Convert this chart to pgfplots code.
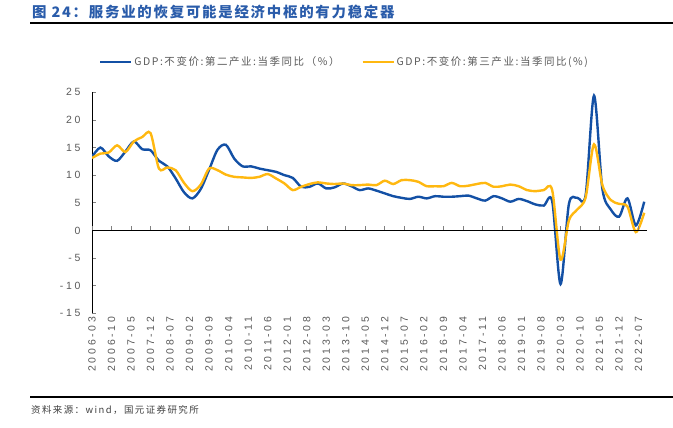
\documentclass[border=0pt]{standalone}
\usepackage{pgfplots}
\pgfplotsset{compat=1.18}
\usepackage{pgfplotstable}
\usepackage{fontspec}
\setmainfont{Liberation Sans}
\newfontfamily\cjk[LetterSpace=15]{Noto Sans CJK SC}
\newfontfamily\cjkb[LetterSpace=12]{Noto Sans CJK SC}
\newfontfamily\lab[LetterSpace=26]{Liberation Sans}

\definecolor{secblue}{HTML}{1350A5}
\definecolor{teryel}{HTML}{FFB810}
\definecolor{titleblue}{HTML}{2A5CAA}
\definecolor{labgray}{HTML}{595959}
\definecolor{srcgray}{HTML}{404040}

% m = months since 2006-03, sec = 第二产业, ter = 第三产业
\pgfplotstableread{
m sec ter
0 13.3 13.1
3 15.0 13.9
6 13.4 14.1
9 12.6 15.4
12 14.3 14.2
15 16.1 16.1
18 14.7 16.9
21 14.5 17.6
24 12.6 11.2
27 11.6 11.4
30 9.4 10.9
33 6.9 8.6
36 5.8 7.1
39 7.5 8.3
42 11.0 11.2
45 14.6 10.9
48 15.5 10.1
51 13.0 9.7
54 11.6 9.6
57 11.6 9.5
60 11.2 9.7
63 10.9 10.2
66 10.6 9.4
69 10.0 8.5
72 9.5 7.3
75 7.9 7.9
78 7.9 8.4
81 8.5 8.7
84 7.6 8.5
87 7.8 8.4
90 8.5 8.5
93 8.0 8.2
96 7.3 8.2
99 7.6 8.3
102 7.2 8.2
105 6.7 9.0
108 6.2 8.4
111 5.9 9.1
114 5.7 9.1
117 6.1 8.8
120 5.8 8.0
123 6.2 8.0
126 6.1 8.0
129 6.1 8.6
132 6.2 8.0
135 6.3 8.1
138 5.8 8.4
141 5.4 8.6
144 6.2 7.9
147 5.8 8.0
150 5.2 8.3
153 5.7 8.0
156 5.3 7.3
159 4.7 7.1
162 4.5 7.3
165 5.3 7.3
168 -9.7 -5.3
171 4.8 1.8
174 5.9 3.8
177 6.4 6.0
180 24.4 15.6
183 7.5 8.2
186 3.8 5.5
189 2.5 4.8
192 5.8 4.3
195 0.9 -0.3
198 5.2 3.2
}\gdp

\begin{document}
\begin{tikzpicture}[x=1bp,y=1bp]
\useasboundingbox (0,0) rectangle (673,427);
\node[anchor=west, inner sep=0, text=titleblue, font=\cjkb\bfseries\fontsize{14.5}{15}\selectfont] at (32,415.3) {图 24：服务业的恢复可能是经济中枢的有力稳定器};
\draw[line width=1.8bp] (30,403.7) -- (673,403.7);
\draw[line width=1.8bp] (30,30.3) -- (673,30.3);
\node[anchor=west, inner sep=0, text=srcgray, font=\cjk\fontsize{9.5}{10}\selectfont] at (31,17) {资料来源：wind，国元证券研究所};

\begin{axis}[
    at={(92bp,113.7bp)}, anchor=south west,
    scale only axis, width=555bp, height=221bp,
    xmin=0, xmax=199, ymin=-15, ymax=25,
    axis y line*=left, axis x line*=bottom,
    x axis line style={draw=none},
    y axis line style={line width=0.8bp},
    ytick={-15,-10,...,25},
    xtick={0,7,...,196},
    xticklabels={2006-03,2006-10,2007-05,2007-12,2008-07,2009-02,2009-09,2010-04,2010-11,2011-06,2012-01,2012-08,2013-03,2013-10,2014-05,2014-12,2015-07,2016-02,2016-09,2017-04,2017-11,2018-06,2019-01,2019-08,2020-03,2020-10,2021-05,2021-12,2022-07},
    xticklabel style={rotate=90, anchor=east},
    major x tick style={draw=none},
    ytick style={line width=0.8bp},
    tick align=inside, major tick length=4bp,
    yticklabel style={xshift=-8bp},
    ticklabel style={font=\lab\fontsize{10.5}{11}\selectfont, text=labgray},
    /pgf/number format/assume math mode=true,
    legend columns=2,
    legend style={at={(0.455,1.137)}, anchor=center, draw=none, fill=none,
        font=\cjk\fontsize{10.5}{11}\selectfont, text=labgray,
        /tikz/every even column/.append style={column sep=20bp}},
    legend image code/.code={\draw[#1, line width=2.2bp] (0bp,0bp) -- (31bp,0bp);},
]
\addplot[secblue, line width=2.4bp, smooth, tension=0.5] table[x=m, y=sec] {\gdp};
\addlegendentry{GDP:不变价:第二产业:当季同比（\%）}
\addplot[teryel, line width=2.4bp, smooth, tension=0.5] table[x=m, y=ter] {\gdp};
\addlegendentry{GDP:不变价:第三产业:当季同比(\%)}
\end{axis}

\begin{axis}[
    at={(92bp,113.7bp)}, anchor=south west,
    scale only axis, width=555bp, height=221bp,
    xmin=0, xmax=199, ymin=-15, ymax=25,
    axis x line=middle, axis y line=none,
    x axis line style={-, line width=0.8bp},
    xtick={0,7,...,196}, xticklabels={},
    tick align=center, major tick length=4bp,
    xtick style={yshift=2bp, line width=0.8bp},
]
\end{axis}
\end{tikzpicture}
\end{document}
